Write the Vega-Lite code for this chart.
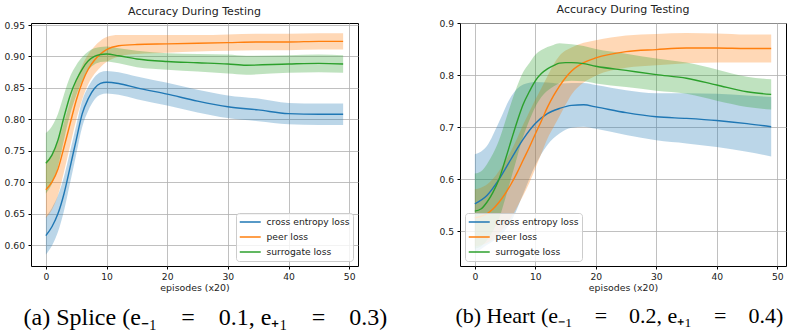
{
  "$schema": "https://vega.github.io/schema/vega-lite/v6.json",
  "background": "white",
  "padding": {"left": 3, "top": 3, "right": 0, "bottom": 0},
  "spacing": 50,
  "datasets": {
    "splice": [
      {"x":0,"s":"cross entropy loss","m":0.615,"lo":0.585,"hi":0.645},
      {"x":1,"s":"cross entropy loss","m":0.629,"lo":0.599,"hi":0.659},
      {"x":2,"s":"cross entropy loss","m":0.650,"lo":0.621,"hi":0.679},
      {"x":3,"s":"cross entropy loss","m":0.682,"lo":0.655,"hi":0.709},
      {"x":4,"s":"cross entropy loss","m":0.724,"lo":0.699,"hi":0.749},
      {"x":5,"s":"cross entropy loss","m":0.767,"lo":0.744,"hi":0.790},
      {"x":6,"s":"cross entropy loss","m":0.809,"lo":0.788,"hi":0.830},
      {"x":7,"s":"cross entropy loss","m":0.833,"lo":0.814,"hi":0.852},
      {"x":8,"s":"cross entropy loss","m":0.849,"lo":0.831,"hi":0.867},
      {"x":9,"s":"cross entropy loss","m":0.857,"lo":0.839,"hi":0.875},
      {"x":10,"s":"cross entropy loss","m":0.859,"lo":0.841,"hi":0.877},
      {"x":12,"s":"cross entropy loss","m":0.857,"lo":0.839,"hi":0.875},
      {"x":15,"s":"cross entropy loss","m":0.850,"lo":0.832,"hi":0.868},
      {"x":20,"s":"cross entropy loss","m":0.840,"lo":0.822,"hi":0.858},
      {"x":25,"s":"cross entropy loss","m":0.829,"lo":0.811,"hi":0.847},
      {"x":30,"s":"cross entropy loss","m":0.820,"lo":0.802,"hi":0.838},
      {"x":35,"s":"cross entropy loss","m":0.815,"lo":0.797,"hi":0.833},
      {"x":40,"s":"cross entropy loss","m":0.809,"lo":0.792,"hi":0.826},
      {"x":45,"s":"cross entropy loss","m":0.808,"lo":0.791,"hi":0.825},
      {"x":49,"s":"cross entropy loss","m":0.808,"lo":0.791,"hi":0.825},
      {"x":0,"s":"peer loss","m":0.688,"lo":0.643,"hi":0.733},
      {"x":1,"s":"peer loss","m":0.700,"lo":0.656,"hi":0.744},
      {"x":2,"s":"peer loss","m":0.721,"lo":0.679,"hi":0.763},
      {"x":3,"s":"peer loss","m":0.756,"lo":0.717,"hi":0.795},
      {"x":4,"s":"peer loss","m":0.793,"lo":0.758,"hi":0.828},
      {"x":5,"s":"peer loss","m":0.830,"lo":0.799,"hi":0.861},
      {"x":6,"s":"peer loss","m":0.859,"lo":0.832,"hi":0.886},
      {"x":7,"s":"peer loss","m":0.880,"lo":0.856,"hi":0.904},
      {"x":8,"s":"peer loss","m":0.894,"lo":0.872,"hi":0.916},
      {"x":9,"s":"peer loss","m":0.904,"lo":0.883,"hi":0.925},
      {"x":10,"s":"peer loss","m":0.911,"lo":0.891,"hi":0.931},
      {"x":12,"s":"peer loss","m":0.917,"lo":0.900,"hi":0.934},
      {"x":15,"s":"peer loss","m":0.919,"lo":0.904,"hi":0.934},
      {"x":20,"s":"peer loss","m":0.920,"lo":0.906,"hi":0.934},
      {"x":25,"s":"peer loss","m":0.921,"lo":0.908,"hi":0.934},
      {"x":30,"s":"peer loss","m":0.922,"lo":0.909,"hi":0.935},
      {"x":35,"s":"peer loss","m":0.923,"lo":0.910,"hi":0.936},
      {"x":40,"s":"peer loss","m":0.923,"lo":0.910,"hi":0.936},
      {"x":45,"s":"peer loss","m":0.924,"lo":0.911,"hi":0.937},
      {"x":49,"s":"peer loss","m":0.924,"lo":0.911,"hi":0.937},
      {"x":0,"s":"surrogate loss","m":0.730,"lo":0.682,"hi":0.778},
      {"x":1,"s":"surrogate loss","m":0.743,"lo":0.697,"hi":0.789},
      {"x":2,"s":"surrogate loss","m":0.767,"lo":0.725,"hi":0.809},
      {"x":3,"s":"surrogate loss","m":0.804,"lo":0.768,"hi":0.840},
      {"x":4,"s":"surrogate loss","m":0.838,"lo":0.808,"hi":0.868},
      {"x":5,"s":"surrogate loss","m":0.862,"lo":0.838,"hi":0.886},
      {"x":6,"s":"surrogate loss","m":0.880,"lo":0.861,"hi":0.899},
      {"x":7,"s":"surrogate loss","m":0.893,"lo":0.878,"hi":0.908},
      {"x":8,"s":"surrogate loss","m":0.900,"lo":0.887,"hi":0.913},
      {"x":9,"s":"surrogate loss","m":0.903,"lo":0.891,"hi":0.915},
      {"x":10,"s":"surrogate loss","m":0.904,"lo":0.892,"hi":0.916},
      {"x":12,"s":"surrogate loss","m":0.901,"lo":0.889,"hi":0.913},
      {"x":15,"s":"surrogate loss","m":0.896,"lo":0.883,"hi":0.909},
      {"x":20,"s":"surrogate loss","m":0.892,"lo":0.879,"hi":0.905},
      {"x":25,"s":"surrogate loss","m":0.890,"lo":0.876,"hi":0.904},
      {"x":30,"s":"surrogate loss","m":0.888,"lo":0.873,"hi":0.903},
      {"x":33,"s":"surrogate loss","m":0.886,"lo":0.871,"hi":0.901},
      {"x":40,"s":"surrogate loss","m":0.888,"lo":0.874,"hi":0.902},
      {"x":45,"s":"surrogate loss","m":0.889,"lo":0.875,"hi":0.903},
      {"x":49,"s":"surrogate loss","m":0.888,"lo":0.874,"hi":0.902}
    ],
    "heart": [
      {"x":0,"s":"cross entropy loss","m":0.553,"lo":0.458,"hi":0.648},
      {"x":2,"s":"cross entropy loss","m":0.569,"lo":0.474,"hi":0.664},
      {"x":4,"s":"cross entropy loss","m":0.600,"lo":0.490,"hi":0.710},
      {"x":6,"s":"cross entropy loss","m":0.639,"lo":0.519,"hi":0.759},
      {"x":8,"s":"cross entropy loss","m":0.677,"lo":0.572,"hi":0.782},
      {"x":10,"s":"cross entropy loss","m":0.707,"lo":0.627,"hi":0.787},
      {"x":12,"s":"cross entropy loss","m":0.726,"lo":0.666,"hi":0.786},
      {"x":14,"s":"cross entropy loss","m":0.736,"lo":0.688,"hi":0.784},
      {"x":16,"s":"cross entropy loss","m":0.742,"lo":0.699,"hi":0.785},
      {"x":18,"s":"cross entropy loss","m":0.743,"lo":0.701,"hi":0.785},
      {"x":20,"s":"cross entropy loss","m":0.739,"lo":0.697,"hi":0.781},
      {"x":25,"s":"cross entropy loss","m":0.728,"lo":0.685,"hi":0.771},
      {"x":30,"s":"cross entropy loss","m":0.720,"lo":0.675,"hi":0.765},
      {"x":35,"s":"cross entropy loss","m":0.717,"lo":0.669,"hi":0.765},
      {"x":40,"s":"cross entropy loss","m":0.713,"lo":0.662,"hi":0.764},
      {"x":45,"s":"cross entropy loss","m":0.707,"lo":0.653,"hi":0.761},
      {"x":49,"s":"cross entropy loss","m":0.701,"lo":0.644,"hi":0.758},
      {"x":0,"s":"peer loss","m":0.526,"lo":0.471,"hi":0.581},
      {"x":1,"s":"peer loss","m":0.529,"lo":0.474,"hi":0.584},
      {"x":2,"s":"peer loss","m":0.534,"lo":0.478,"hi":0.590},
      {"x":3,"s":"peer loss","m":0.543,"lo":0.485,"hi":0.601},
      {"x":4,"s":"peer loss","m":0.556,"lo":0.496,"hi":0.616},
      {"x":5,"s":"peer loss","m":0.572,"lo":0.510,"hi":0.634},
      {"x":6,"s":"peer loss","m":0.591,"lo":0.527,"hi":0.655},
      {"x":7,"s":"peer loss","m":0.613,"lo":0.547,"hi":0.679},
      {"x":8,"s":"peer loss","m":0.637,"lo":0.569,"hi":0.705},
      {"x":9,"s":"peer loss","m":0.661,"lo":0.593,"hi":0.729},
      {"x":10,"s":"peer loss","m":0.687,"lo":0.621,"hi":0.753},
      {"x":11,"s":"peer loss","m":0.712,"lo":0.649,"hi":0.775},
      {"x":12,"s":"peer loss","m":0.738,"lo":0.678,"hi":0.798},
      {"x":13,"s":"peer loss","m":0.760,"lo":0.700,"hi":0.820},
      {"x":14,"s":"peer loss","m":0.779,"lo":0.721,"hi":0.837},
      {"x":15,"s":"peer loss","m":0.795,"lo":0.743,"hi":0.847},
      {"x":16,"s":"peer loss","m":0.808,"lo":0.763,"hi":0.853},
      {"x":18,"s":"peer loss","m":0.824,"lo":0.786,"hi":0.862},
      {"x":20,"s":"peer loss","m":0.833,"lo":0.799,"hi":0.867},
      {"x":25,"s":"peer loss","m":0.845,"lo":0.814,"hi":0.876},
      {"x":30,"s":"peer loss","m":0.849,"lo":0.819,"hi":0.879},
      {"x":35,"s":"peer loss","m":0.852,"lo":0.823,"hi":0.881},
      {"x":40,"s":"peer loss","m":0.852,"lo":0.824,"hi":0.880},
      {"x":45,"s":"peer loss","m":0.851,"lo":0.824,"hi":0.878},
      {"x":49,"s":"peer loss","m":0.851,"lo":0.824,"hi":0.878},
      {"x":0,"s":"surrogate loss","m":0.539,"lo":0.467,"hi":0.611},
      {"x":1,"s":"surrogate loss","m":0.543,"lo":0.471,"hi":0.615},
      {"x":2,"s":"surrogate loss","m":0.556,"lo":0.483,"hi":0.629},
      {"x":3,"s":"surrogate loss","m":0.575,"lo":0.501,"hi":0.649},
      {"x":4,"s":"surrogate loss","m":0.600,"lo":0.525,"hi":0.675},
      {"x":5,"s":"surrogate loss","m":0.636,"lo":0.562,"hi":0.710},
      {"x":6,"s":"surrogate loss","m":0.674,"lo":0.602,"hi":0.746},
      {"x":7,"s":"surrogate loss","m":0.711,"lo":0.643,"hi":0.779},
      {"x":8,"s":"surrogate loss","m":0.744,"lo":0.682,"hi":0.806},
      {"x":9,"s":"surrogate loss","m":0.768,"lo":0.713,"hi":0.823},
      {"x":10,"s":"surrogate loss","m":0.789,"lo":0.739,"hi":0.839},
      {"x":11,"s":"surrogate loss","m":0.803,"lo":0.758,"hi":0.848},
      {"x":12,"s":"surrogate loss","m":0.812,"lo":0.770,"hi":0.854},
      {"x":13,"s":"surrogate loss","m":0.818,"lo":0.778,"hi":0.858},
      {"x":14,"s":"surrogate loss","m":0.823,"lo":0.785,"hi":0.861},
      {"x":15,"s":"surrogate loss","m":0.824,"lo":0.788,"hi":0.860},
      {"x":16,"s":"surrogate loss","m":0.824,"lo":0.789,"hi":0.859},
      {"x":18,"s":"surrogate loss","m":0.822,"lo":0.788,"hi":0.856},
      {"x":20,"s":"surrogate loss","m":0.817,"lo":0.784,"hi":0.850},
      {"x":25,"s":"surrogate loss","m":0.809,"lo":0.777,"hi":0.841},
      {"x":30,"s":"surrogate loss","m":0.801,"lo":0.770,"hi":0.832},
      {"x":35,"s":"surrogate loss","m":0.794,"lo":0.764,"hi":0.824},
      {"x":40,"s":"surrogate loss","m":0.781,"lo":0.751,"hi":0.811},
      {"x":45,"s":"surrogate loss","m":0.768,"lo":0.739,"hi":0.797},
      {"x":49,"s":"surrogate loss","m":0.763,"lo":0.734,"hi":0.792}
    ]
  },
  "hconcat": [
    {
      "title": {"text": "(a) Splice (e₋₁\u2003=\u20030.1, e₊₁\u2003=\u20030.3)", "orient": "bottom", "font": "Liberation Serif", "fontSize": 24, "fontWeight": "normal", "color": "black", "offset": 13, "dx": 20},
      "resolve": {"scale": {"color": "independent", "x": "independent", "y": "independent"}, "legend": {"color": "independent"}, "axis": {"x": "independent", "y": "independent"}},
      "vconcat": [
        {
          "title": "Accuracy During Testing",
          "width": 327,
          "height": 243,
          "data": {"name": "splice"},
          "encoding": {
            "x": {"field": "x", "type": "quantitative", "scale": {"domain": [-2.45, 51.45], "nice": false, "zero": false}, "axis": {"values": [0, 10, 20, 30, 40, 50], "title": "episodes (x20)"}},
            "color": {"field": "s", "type": "nominal", "scale": {"domain": ["cross entropy loss", "peer loss", "surrogate loss"], "range": ["#1f77b4", "#ff7f0e", "#2ca02c"]},
              "legend": {"orient": "bottom-right", "offset": 5}}
          },
          "layer": [
            {"mark": {"type": "area", "opacity": 0.3, "interpolate": "monotone"},
             "encoding": {"y": {"field": "lo", "type": "quantitative", "scale": {"domain": [0.5666, 0.9532], "nice": false, "zero": false}, "axis": {"values": [0.6, 0.65, 0.7, 0.75, 0.8, 0.85, 0.9, 0.95], "format": ".2f", "title": null, "labelOverlap": false}}, "y2": {"field": "hi"}}},
            {"mark": {"type": "line", "strokeWidth": 1.4, "interpolate": "monotone"},
             "encoding": {"y": {"field": "m", "type": "quantitative", "scale": {"domain": [0.5666, 0.9532], "nice": false, "zero": false}, "axis": {"values": [0.6, 0.65, 0.7, 0.75, 0.8, 0.85, 0.9, 0.95], "format": ".2f", "title": null, "labelOverlap": false}}}}
          ]
        }
      ]
    },
    {
      "title": {"text": "(b) Heart (e₋₁\u2003=\u20030.2, e₊₁\u2003=\u20030.4)", "orient": "bottom", "font": "Liberation Serif", "fontSize": 22, "fontWeight": "normal", "color": "black", "offset": 13, "dx": 17},
      "resolve": {"scale": {"color": "independent", "x": "independent", "y": "independent"}, "legend": {"color": "independent"}, "axis": {"x": "independent", "y": "independent"}},
      "vconcat": [
        {
          "title": "Accuracy During Testing",
          "width": 326,
          "height": 243,
          "data": {"name": "heart"},
          "encoding": {
            "x": {"field": "x", "type": "quantitative", "scale": {"domain": [-2.45, 51.45], "nice": false, "zero": false}, "axis": {"values": [0, 10, 20, 30, 40, 50], "title": "episodes (x20)"}},
            "color": {"field": "s", "type": "nominal", "scale": {"domain": ["cross entropy loss", "peer loss", "surrogate loss"], "range": ["#1f77b4", "#ff7f0e", "#2ca02c"]},
              "legend": {"orient": "bottom-left", "offset": 5}}
          },
          "layer": [
            {"mark": {"type": "area", "opacity": 0.3, "interpolate": "monotone"},
             "encoding": {"y": {"field": "lo", "type": "quantitative", "scale": {"domain": [0.4337, 0.9], "nice": false, "zero": false}, "axis": {"values": [0.5, 0.6, 0.7, 0.8, 0.9], "format": ".1f", "title": null, "labelOverlap": false}}, "y2": {"field": "hi"}}},
            {"mark": {"type": "line", "strokeWidth": 1.4, "interpolate": "monotone"},
             "encoding": {"y": {"field": "m", "type": "quantitative", "scale": {"domain": [0.4337, 0.9], "nice": false, "zero": false}, "axis": {"values": [0.5, 0.6, 0.7, 0.8, 0.9], "format": ".1f", "title": null, "labelOverlap": false}}}}
          ]
        }
      ]
    }
  ],
  "resolve": {"scale": {"color": "independent", "x": "independent", "y": "independent"}, "legend": {"color": "independent"}, "axis": {"x": "independent", "y": "independent"}},
  "config": {
    "view": {"stroke": "black", "strokeWidth": 1},
    "axis": {"domain": false, "grid": true, "gridColor": "#b0b0b0", "gridWidth": 0.8, "zindex": 1, "tickColor": "black", "tickSize": 3, "labelFont": "DejaVu Sans", "labelFontSize": 9.2, "labelColor": "#222", "titleFont": "DejaVu Sans", "titleFontSize": 9.4, "titleFontWeight": "normal", "titleColor": "#222", "labelPadding": 3.5, "titlePadding": 2, "labelFlush": false},
    "legend": {"title": null, "symbolType": "M-1,0H3", "symbolSize": 110, "symbolStrokeWidth": 1.5, "symbolOpacity": 1, "labelFont": "DejaVu Sans", "labelFontSize": 9.2, "labelColor": "#222", "labelOffset": 15.5, "rowPadding": 3, "padding": 3, "fillColor": "rgba(255,255,255,0.8)", "strokeColor": "#cccccc", "cornerRadius": 3},
    "title": {"font": "DejaVu Sans", "fontSize": 11, "fontWeight": "normal", "color": "#222", "offset": 4}
  }
}
